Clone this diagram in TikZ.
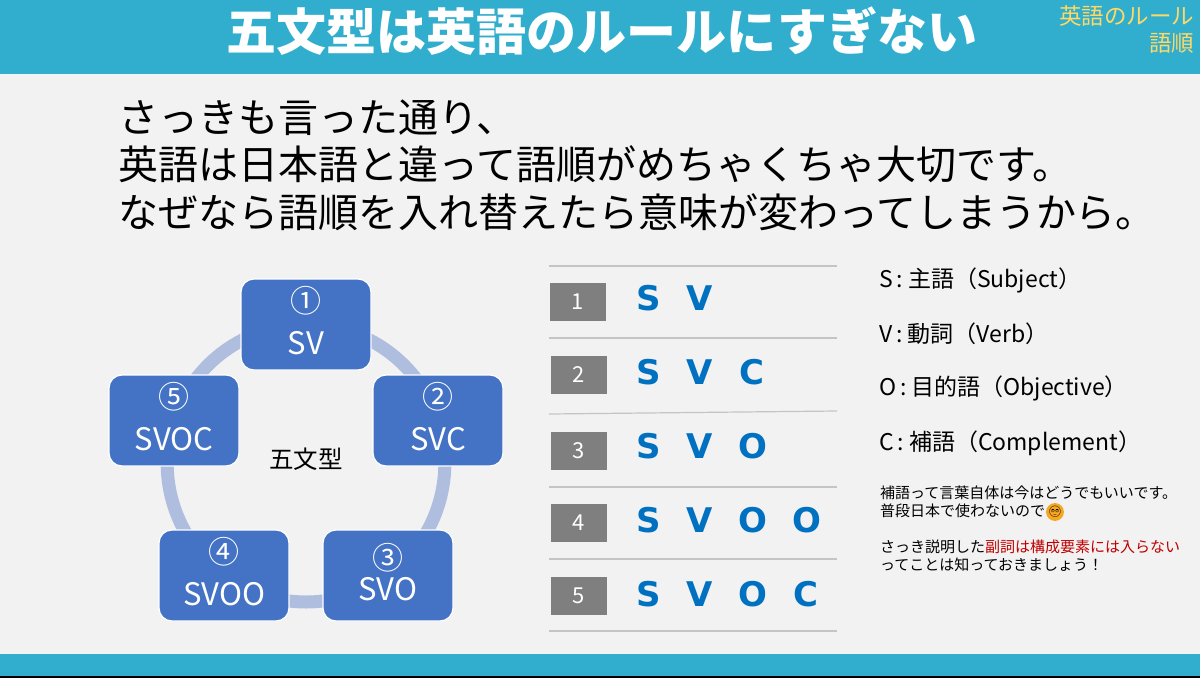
\documentclass[tikz,border=0pt]{standalone}
\usepackage{fontspec}
\setmainfont{Noto Sans CJK JP}
\newfontfamily\letterfont{DejaVu Sans}
\newfontfamily\emojifont{Noto Emoji}
\usepackage{tikz}
\usetikzlibrary{backgrounds}
\usepackage{xcolor}
\definecolor{band}{HTML}{31AECD}
\definecolor{paper}{HTML}{F2F2F2}
\definecolor{boxblue}{HTML}{4472C4}
\definecolor{ringblue}{HTML}{AFBDDF}
\definecolor{rowgray}{HTML}{7F7F7F}
\definecolor{rulegray}{HTML}{C4C4C4}
\definecolor{letterblue}{HTML}{0070C0}
\definecolor{tagyellow}{HTML}{FFD966}
\definecolor{notered}{HTML}{C00000}
\definecolor{eyeorange}{HTML}{F5A623}
\newcommand{\termsep}{\hspace{4pt}:\hspace{5pt}}
\tikzset{
  textnode/.style={inner sep=0pt, outer sep=0pt},
  bodytext/.style={textnode, anchor=west, font=\fontsize{40}{47.5}\selectfont, align=left},
  termtext/.style={textnode, anchor=west, font=\fontsize{23}{27}\selectfont},
  typebox/.style={draw=white, line width=1.2pt, fill=boxblue, rounded corners=13pt, text=white, align=center, minimum width=130pt, minimum height=91pt, inner sep=0pt, text depth=8pt, font=\fontsize{31}{42}\selectfont},
  ring/.style={draw=ringblue, line width=13pt, bend left=36, looseness=0.94},
  numbox/.style={fill=rowgray, text=white, minimum width=56pt, minimum height=38pt, inner sep=0pt, font=\fontsize{22}{26}\selectfont},
  letter/.style={textnode, text=letterblue, font=\letterfont\bfseries\fontsize{34}{40}\selectfont},
  rowrule/.style={draw=rulegray, line width=1.2pt}
}
\begin{document}
\begin{tikzpicture}[x=1pt, y=-1pt]
  \useasboundingbox (0,0) rectangle (1200,678);
  \node[textnode, text=white, font=\bfseries\fontsize{50}{60}\selectfont] (title) at (602,31) {五文型は英語のルールにすぎない};
  \node[textnode, anchor=east, text=tagyellow, align=right, font=\fontsize{22.5}{27}\selectfont] (tag) at (1194,29) {英語のルール\\語順};
  \node[bodytext] (intro) at (118,165) {さっきも言った通り、\\英語は日本語と違って語順がめちゃくちゃ大切です。\\なぜなら語順を入れ替えたら意味が変わってしまうから。};

  % five types
  \node[typebox] (sv) at (306,324.5) {①\\SV};
  \node[typebox] (svc) at (438,420.5) {②\\SVC};
  \node[typebox] (svo) at (388,575.5) {③\\[-11pt]SVO};
  \node[typebox] (svoo) at (224,575.5) {④\\SVOO};
  \node[typebox] (svoc) at (174,420.5) {⑤\\SVOC};
  \node[textnode, font=\fontsize{24.5}{30}\selectfont] (center) at (306,459) {五文型};
  \begin{scope}[on background layer]
    \fill[paper] (0,0) rectangle (1200,678);
    \fill[band] (0,0) rectangle (1200,74);
    \fill[band] (0,654) rectangle (1200,676);
    \fill[black] (0,676) rectangle (1200,678);
    \draw[ring] (sv.center) to (svc.center);
    \draw[ring] (svc.center) to (svo.center);
    \draw[ring] (svo.center) to (svoo.center);
    \draw[ring] (svoo.center) to (svoc.center);
    \draw[ring] (svoc.center) to (sv.center);
  \end{scope}

  % rows
  \draw[rowrule] (549,266) -- (837,266);
  \draw[rowrule] (549,338) -- (837,338);
  \draw[rowrule] (549,414) -- (837,411);
  \draw[rowrule] (549,487) -- (837,487);
  \draw[rowrule] (549,559) -- (837,559);
  \draw[rowrule] (549,631) -- (837,631);
  \node[numbox] (n1) at (578,302) {1};
  \node[numbox] (n2) at (578.5,374.5) {2};
  \node[numbox] (n3) at (578.5,450.5) {3};
  \node[numbox] (n4) at (578.5,523) {4};
  \node[numbox] (n5) at (578.5,596) {5};
  \node[letter] (s1) at (649,298) {S};
  \node[letter] (v1) at (700,298) {V};
  \node[letter] (s2) at (649,372) {S};
  \node[letter] (v2) at (700,372) {V};
  \node[letter] (c2) at (752,372) {C};
  \node[letter] (s3) at (649,446) {S};
  \node[letter] (v3) at (700,446) {V};
  \node[letter] (o3) at (753,446) {O};
  \node[letter] (s4) at (649,520) {S};
  \node[letter] (v4) at (700,520) {V};
  \node[letter] (o4) at (753,520) {O};
  \node[letter] (p4) at (807,520) {O};
  \node[letter] (s5) at (649,594) {S};
  \node[letter] (v5) at (700,594) {V};
  \node[letter] (o5) at (753,594) {O};
  \node[letter] (c5) at (806,594) {C};

  % terms
  \node[termtext] (ts) at (879,280) {S\termsep 主語（Subject）};
  \node[termtext] (tv) at (879,334) {V\termsep 動詞（Verb）};
  \node[termtext] (to) at (879,388) {O\termsep 目的語（Objective）};
  \node[termtext] (tc) at (879,443) {C\termsep 補語（Complement）};
  \node[textnode, anchor=west, align=left, font=\fontsize{15}{18}\selectfont] (note) at (880,529) {補語って言葉自体は今はどうでもいいです。\\普段日本で使わないので\\[18pt]さっき説明した\textcolor{notered}{副詞は構成要素には入らない}\\ってことは知っておきましょう！};
  \node[circle, fill=eyeorange, inner sep=0pt, minimum size=16pt, font=\emojifont\fontsize{11}{11}\selectfont] (eye) at (1055,512) {🙄};
\end{tikzpicture}
\end{document}
